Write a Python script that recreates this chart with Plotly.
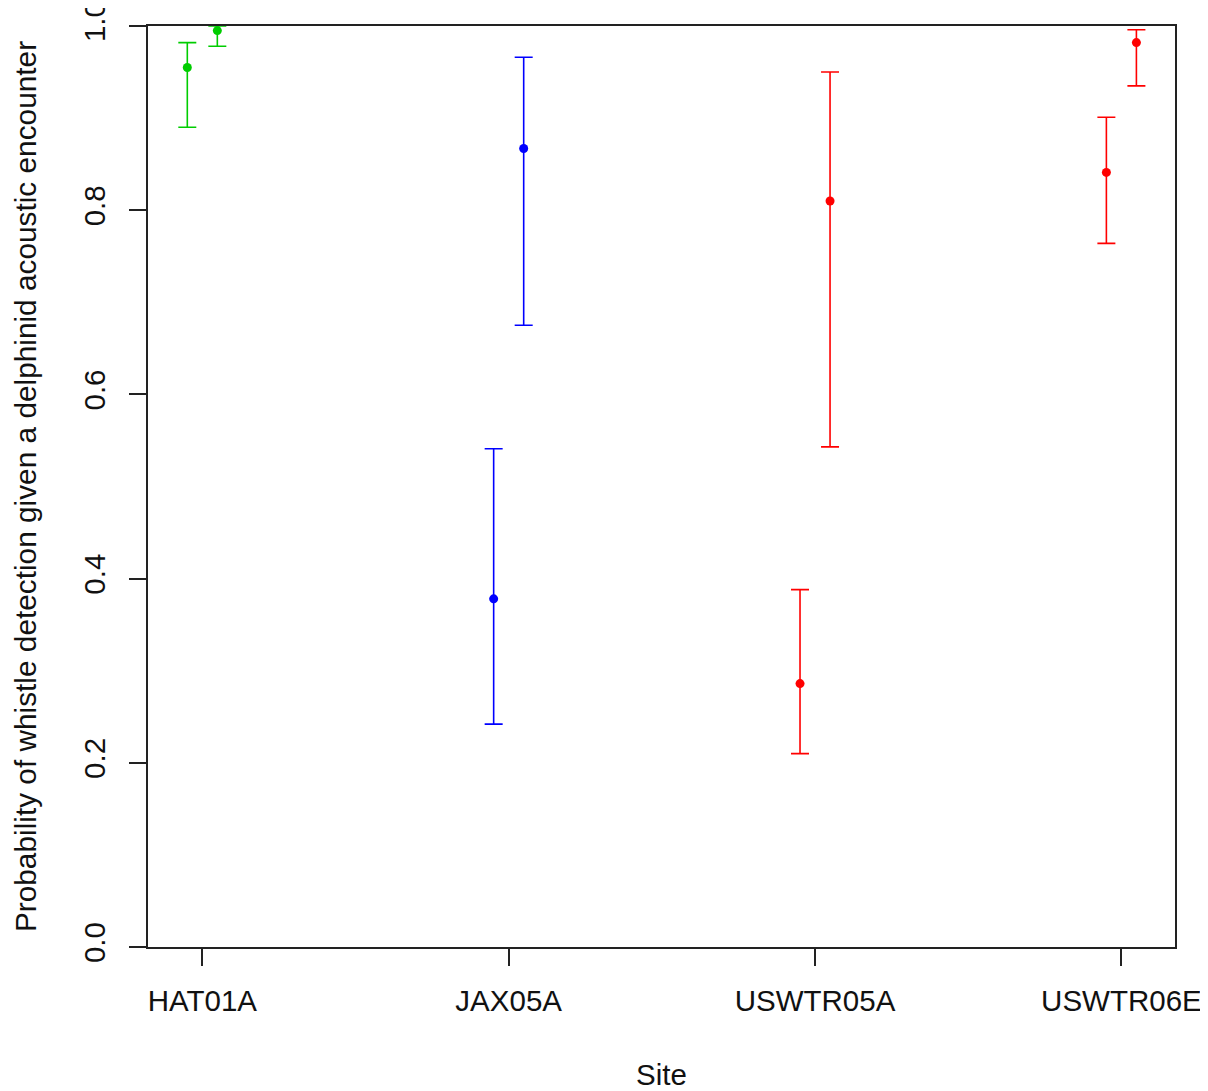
import plotly.graph_objects as go

sites = ["HAT01A", "JAX05A", "USWTR05A", "USWTR06E"]
colors = ["#00CD00", "#0000FF", "#FF0000", "#FF0000"]

# two estimates per site (left, right)
left_est = [0.955, 0.378, 0.286, 0.841]
left_upper = [0.982, 0.541, 0.388, 0.901]
left_lower = [0.890, 0.242, 0.210, 0.764]

right_est = [0.995, 0.867, 0.810, 0.982]
right_upper = [1.000, 0.966, 0.950, 0.996]
right_lower = [0.978, 0.675, 0.543, 0.935]

y_ticks = [0.0, 0.2, 0.4, 0.6, 0.8, 1.0]

offset = 0.049
font_family = "Liberation Sans, Arial, sans-serif"

fig = go.Figure()
for i, site in enumerate(sites):
    for xs, est, up, lo in [
        (i + 1 - offset, left_est[i], left_upper[i], left_lower[i]),
        (i + 1 + offset, right_est[i], right_upper[i], right_lower[i]),
    ]:
        fig.add_trace(go.Scatter(
            x=[xs], y=[est], mode="markers",
            marker=dict(color=colors[i], size=9, line=dict(width=0)),
            error_y=dict(type="data", symmetric=False,
                         array=[up - est], arrayminus=[est - lo],
                         color=colors[i], thickness=1.6, width=9),
            showlegend=False, name=site,
        ))

# page body adds an 8px margin, so the figure is sized 8px smaller
fig.update_layout(
    width=1200, height=1083,
    margin=dict(l=140, r=33, t=18, b=144),
    paper_bgcolor="white", plot_bgcolor="white",
    font=dict(family=font_family, size=29, color="#111"),
)
fig.update_xaxes(
    range=[0.8227, 4.175], automargin=False,
    tickvals=[1, 2, 3, 4], ticktext=sites,
    ticks="outside", ticklen=17, tickwidth=1.5, tickcolor="#222",
    showline=True, linewidth=1.5, linecolor="#222", mirror=True,
    showgrid=False, zeroline=False,
    tickfont=dict(size=29.5),
    ticklabelstandoff=10, ticklabeloverflow="allow",
    title=dict(text="Site", font=dict(size=29.5), standoff=50),
)
fig.update_yaxes(
    range=[0, 1], automargin=False,
    tickvals=y_ticks, ticktext=[f"{v:.1f}" for v in y_ticks],
    ticks="outside", ticklen=17, tickwidth=1.5, tickcolor="#222",
    showline=True, linewidth=1.5, linecolor="#222", mirror=True,
    showgrid=False, zeroline=False,
    tickangle=-90,
    tickfont=dict(size=29.5),
    ticklabelstandoff=12, ticklabeloverflow="allow",
    title=dict(text="Probability of whistle detection given a delphinid acoustic encounter",
               font=dict(size=29.8), standoff=33),
)

fig.write_html("out.html")
